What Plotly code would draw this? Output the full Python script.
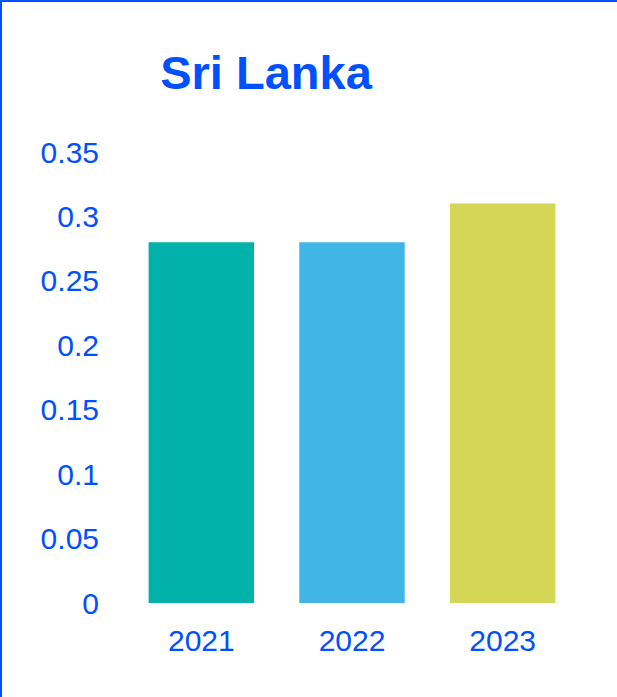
import plotly.graph_objects as go

years = ["2021", "2022", "2023"]
values = [0.28, 0.28, 0.31]
colors = ["#00B2A9", "#41B6E6", "#D3D755"]
title_text = "Sri Lanka"

W, H = 617, 697
ml, mr, mt, mb = 126, 39, 152, 94
pw, ph = W - ml - mr, H - mt - mb
blue = "#0050FF"

fig = go.Figure(go.Bar(x=years, y=values, marker=dict(color=colors, line=dict(width=0))))

def px_to_x(px):
    return (px - ml) / pw

def py_to_y(py):
    return (H - mb - py) / ph

fig.update_layout(
    width=W, height=H,
    margin=dict(l=ml, r=mr, t=mt, b=mb, autoexpand=False),
    paper_bgcolor="white", plot_bgcolor="white",
    bargap=0.3,
    showlegend=False,
    font=dict(family="Liberation Sans, Arial, sans-serif", color=blue, size=30),
    title=dict(text="<b>" + title_text + "</b>", font=dict(size=47, color=blue),
               x=266 / W, xanchor="center", xref="container",
               y=1 - 73 / H, yanchor="middle", yref="container"),
    xaxis=dict(type="category", showgrid=False, showline=False, zeroline=False,
               ticks="", tickfont=dict(size=30, color=blue), ticklabelstandoff=17),
    yaxis=dict(range=[0, 0.35], dtick=0.05, showgrid=False, showline=False,
               zeroline=False, ticks="", tickfont=dict(size=30, color=blue),
               ticklabelstandoff=26),
    shapes=[
        dict(type="line", xref="paper", yref="paper",
             x0=px_to_x(1), x1=px_to_x(1), y0=py_to_y(0), y1=py_to_y(H),
             line=dict(color=blue, width=2)),
        dict(type="line", xref="paper", yref="paper",
             x0=px_to_x(0), x1=px_to_x(W), y0=py_to_y(1), y1=py_to_y(1),
             line=dict(color=blue, width=2)),
    ],
)

fig.write_html("out.html",
               config={"displayModeBar": False},
               post_script="document.body.style.margin='0';document.body.style.overflow='hidden';")
